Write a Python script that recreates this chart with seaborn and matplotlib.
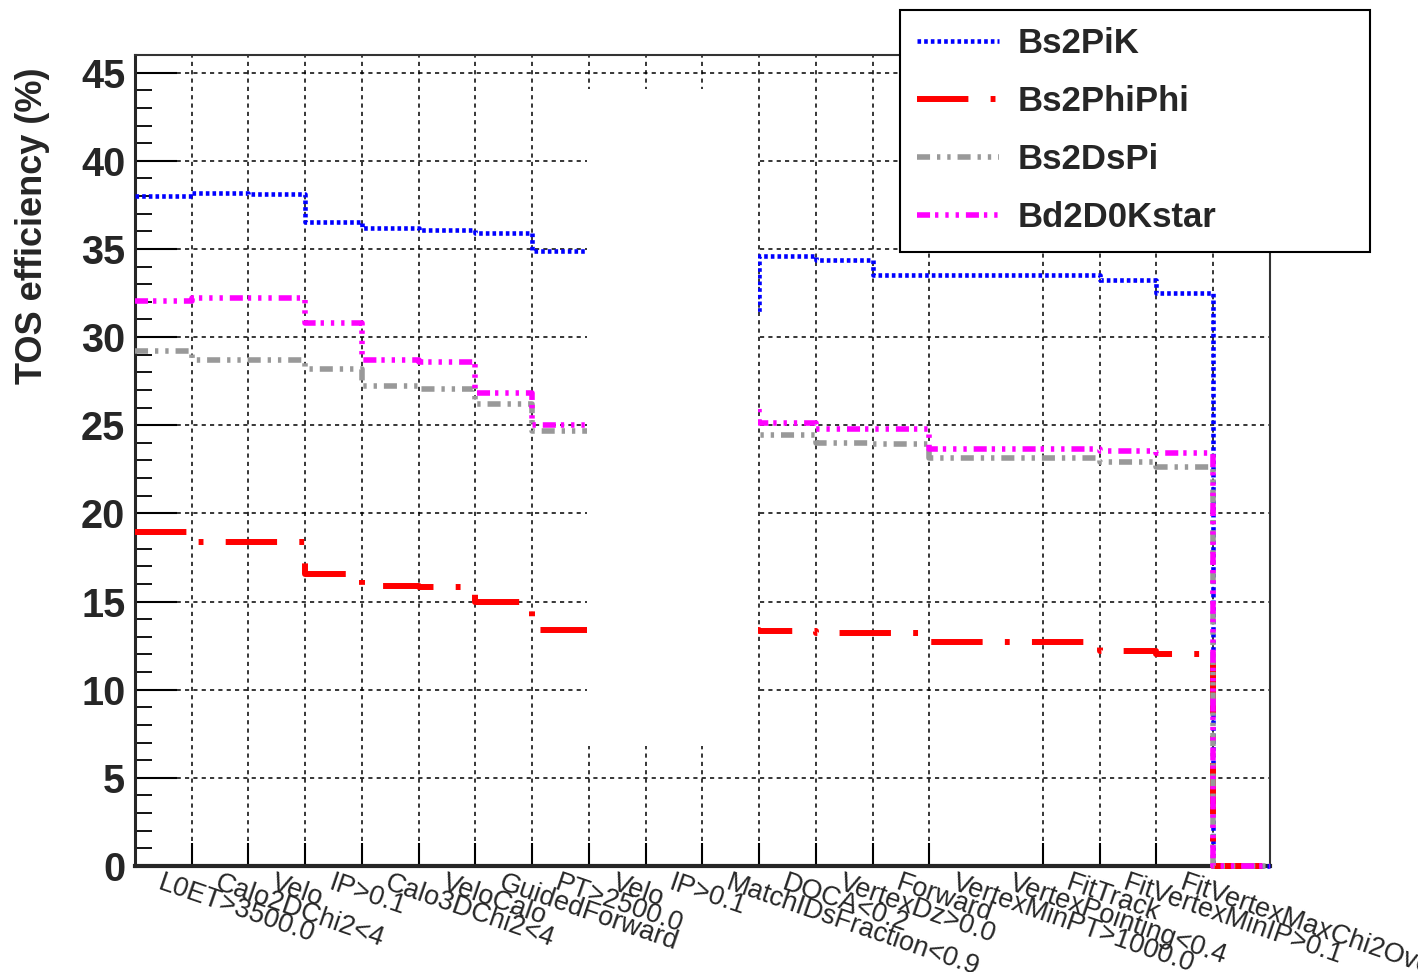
import numpy as np
import pandas as pd
import matplotlib
matplotlib.use("Agg")
import matplotlib.pyplot as plt
from matplotlib.patches import Rectangle
import seaborn as sns

# cut names, one per bin (last bin has no label)
cut_labels = ["L0ET>3500.0", "Calo2DChi2<4", "Velo", "IP>0.1", "Calo3DChi2<4",
              "VeloCalo", "GuidedForward", "PT>2500.0", "Velo", "IP>0.1",
              "MatchIDsFraction<0.9", "DOCA<0.2", "VertexDz>0.0", "Forward",
              "VertexMinPT>1000.0", "VertexPointing<0.4", "FitTrack",
              "FitVertexMinIP>0.1", "FitVertexMaxChi2OverNdf<10", ""]

nan = np.nan
# TOS efficiency (%) per bin; bins 9-10 are hidden in the original
bs2pik = [38.0, 38.2, 38.1, 36.5, 36.2, 36.1, 35.9, 34.9, nan, nan,
          31.4, 34.6, 34.4, 33.5, 33.5, 33.5, 33.5, 33.25, 32.5, 0.0]
bs2phiphi = [18.95, 18.4, 18.4, 16.55, 15.9, 15.8, 14.95, 13.4, nan, nan,
             13.4, 13.35, 13.2, 13.2, 12.7, 12.7, 12.7, 12.2, 12.05, 0.0]
bs2dspi = [29.2, 28.7, 28.7, 28.2, 27.25, 27.05, 26.2, 24.65, nan, nan,
           24.7, 24.45, 24.0, 23.95, 23.15, 23.15, 23.15, 22.9, 22.65, 0.0]
bd2d0kstar = [32.05, 32.2, 32.2, 30.8, 28.7, 28.6, 26.8, 25.0, nan, nan,
              26.0, 25.1, 24.8, 24.8, 23.65, 23.65, 23.65, 23.55, 23.4, 0.0]

series = {"Bs2PiK": bs2pik, "Bs2PhiPhi": bs2phiphi,
          "Bs2DsPi": bs2dspi, "Bd2D0Kstar": bd2d0kstar}
colors = {"Bs2PiK": "#0000ff", "Bs2PhiPhi": "#ff0000",
          "Bs2DsPi": "#999999", "Bd2D0Kstar": "#ff00ff"}
styles = {"Bs2PiK": ((0, (2.6, 2.2)), 3.3),
          "Bs2PhiPhi": ((0, (37, 16, 3.5, 16)), 4.3),
          "Bs2DsPi": ((0, (9.4, 5, 2.4, 5, 2.4, 5)), 4.0),
          "Bd2D0Kstar": ((0, (9.4, 3.6, 2.4, 5, 2.4, 5, 2.4, 5)), 4.0)}

sns.set_theme(style="white")
plt.rcParams["font.family"] = ["Liberation Sans", "DejaVu Sans"]
plt.rcParams["lines.scale_dashes"] = False
plt.rcParams["lines.dash_capstyle"] = "butt"

nbins = len(cut_labels)
edges = np.arange(nbins + 1)

fig = plt.figure(figsize=(14.18, 9.72), dpi=100)
ax = fig.add_axes([0.0952, 0.1091, 0.8004, 0.8343])

for name, vals in series.items():
    df = pd.DataFrame({"x": edges, "eff": list(vals) + [vals[-1]]})
    ls, lw = styles[name]
    sns.lineplot(data=df, x="x", y="eff", ax=ax, color=colors[name],
                 linestyle=ls, linewidth=lw, drawstyle="steps-post",
                 label=name, legend=False, sort=False, estimator=None,
                 clip_on=False, zorder=7)

ax.set_xlim(0, nbins)
ax.set_ylim(0, 46)

# hidden region of the original
ax.add_patch(Rectangle((7.97, 6.8), 3.0, 37.3, facecolor="white",
                       edgecolor="none", zorder=8))

grid_edges = [e for e in range(1, nbins) if e != 15]
ax.set_xticks(grid_edges, labels=[""] * len(grid_edges))
ax.set_xticks(edges[:-1] + 0.5, labels=cut_labels, minor=True)
ax.set_yticks(np.arange(0, 46, 5))
ax.set_yticks(np.arange(0, 46, 1), minor=True)

ax.tick_params(axis="x", which="major", direction="in", length=16.5,
               width=1.5, color="black", bottom=True)
ax.tick_params(axis="x", which="minor", length=0, pad=3, labelsize=19.5,
               labelrotation=-19, bottom=True)
ax.tick_params(axis="y", which="major", direction="in", length=30,
               width=1.5, color="black", labelsize=28.5, pad=7, left=True)
ax.tick_params(axis="y", which="minor", direction="in", length=12,
               width=1.3, color="black", left=True)
for lbl in ax.get_xticklabels(minor=True):
    lbl.set_ha("left")
    lbl.set_va("top")
    lbl.set_rotation_mode("anchor")
for lbl in ax.get_yticklabels():
    lbl.set_fontweight("bold")

ax.grid(True, which="major", color="black", linestyle=(0, (3, 3)),
        linewidth=1.1)
ax.set_axisbelow(True)

ax.spines["left"].set_linewidth(2.2)
ax.spines["bottom"].set_linewidth(3.0)
for s in ["top", "right"]:
    ax.spines[s].set_linewidth(1.5)
    ax.spines[s].set_color("#333333")
for s in ax.spines.values():
    s.set_zorder(6)

ax.set_xlabel("")
ax.set_ylabel("TOS efficiency (%)", fontsize=26, fontweight="bold")
ax.yaxis.set_label_coords(-0.075, 0.79)

handles, labels = ax.get_legend_handles_labels()
leg = fig.legend(handles, labels, loc="upper left",
                 bbox_to_anchor=(0.6347, 0.75, 0.3315, 0.2397), mode="expand",
                 prop={"weight": "bold", "size": 25}, frameon=True,
                 fancybox=False, framealpha=1, borderaxespad=0,
                 borderpad=0.5, handlelength=2.35, handletextpad=0.55,
                 labelspacing=0.72)
leg.get_frame().set_edgecolor("black")
leg.get_frame().set_linewidth(1.5)

fig.savefig("out.png", dpi=100)
